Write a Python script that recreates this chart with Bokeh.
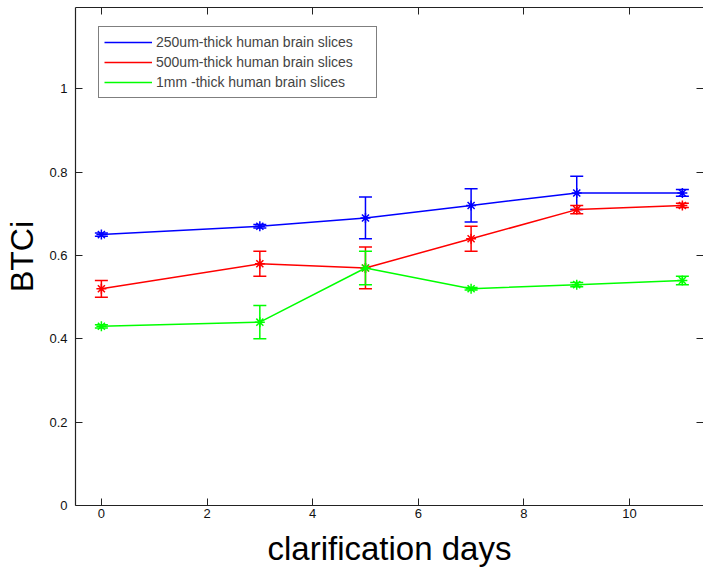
from bokeh.plotting import figure
from bokeh.models import (ColumnDataSource, Whisker, TeeHead, Legend, LegendItem,
                          LinearAxis, FixedTicker, NumeralTickFormatter, Range1d,
                          CustomJSTickFormatter)
from bokeh.embed import file_html
from bokeh.resources import INLINE

# ---- data ----
days = [0, 3, 5, 7, 9, 11]
btci_250um = [0.65, 0.67, 0.69, 0.72, 0.75, 0.75]
err_250um = [0.004, 0.004, 0.05, 0.04, 0.04, 0.008]
btci_500um = [0.52, 0.58, 0.57, 0.64, 0.71, 0.72]
err_500um = [0.02, 0.03, 0.05, 0.03, 0.01, 0.005]
btci_1mm = [0.43, 0.44, 0.57, 0.52, 0.53, 0.54]
err_1mm = [0.004, 0.04, 0.04, 0.003, 0.005, 0.01]
series_names = ["250um-thick human brain slices",
                "500um-thick human brain slices",
                "1mm -thick human brain slices"]
series_colors = ["#0000ff", "#ff0000", "#00ff00"]
x_ticks = [0, 2, 4, 6, 8, 10]
y_ticks = [0, 0.2, 0.4, 0.6, 0.8, 1]

FONT = "Liberation Sans"

p = figure(width=703, height=571, output_backend="svg", toolbar_location=None,
           x_range=Range1d(-0.49, 11.40), y_range=Range1d(0, 1.195),
           min_border_left=75, min_border_bottom=66, min_border_top=7, min_border_right=0,
           x_axis_label="clarification days", y_axis_label="BTCi")
p.grid.visible = False
p.outline_line_color = None
p.background_fill_color = "white"
p.border_fill_color = "white"

for ax in p.xaxis + p.yaxis:
    ax.major_tick_in = 7
    ax.major_tick_out = 0
    ax.minor_tick_line_color = None
    ax.axis_line_color = "#222222"
    ax.axis_line_width = 1.2
    ax.major_tick_line_color = "#222222"
    ax.major_label_text_font = FONT
    ax.major_label_text_font_size = "13px"
    ax.major_label_text_color = "#111111"
    ax.axis_label_text_font = FONT
    ax.axis_label_text_font_style = "normal"
    ax.axis_label_text_color = "black"

p.xaxis.ticker = FixedTicker(ticks=x_ticks)
p.yaxis.ticker = FixedTicker(ticks=y_ticks)
p.yaxis.formatter = NumeralTickFormatter(format="0.[0]")
p.xaxis.major_label_standoff = 3
p.yaxis.major_label_standoff = 8
p.xaxis.axis_label_text_font_size = "33px"
p.yaxis.axis_label_text_font_size = "32px"
p.xaxis.axis_label_standoff = 9
p.yaxis.axis_label_standoff = 6

blank = CustomJSTickFormatter(code="return ''")
# mirror ticks on top and right (right border lies outside the visible window)
top = LinearAxis(ticker=FixedTicker(ticks=x_ticks), major_tick_in=7, major_tick_out=0,
                 formatter=blank, major_label_standoff=0,
                 axis_line_color="#222222", axis_line_width=1.2, minor_tick_line_color=None,
                 major_tick_line_color="#222222")
right = LinearAxis(ticker=FixedTicker(ticks=y_ticks), major_tick_in=7, major_tick_out=0,
                   formatter=blank, major_label_standoff=0,
                   axis_line_color=None, minor_tick_line_color=None,
                   major_tick_line_color="#222222")
p.add_layout(top, "above")
p.add_layout(right, "right")

items = []
for vals, errs, name, col in zip([btci_250um, btci_500um, btci_1mm],
                                 [err_250um, err_500um, err_1mm],
                                 series_names, series_colors):
    src = ColumnDataSource(dict(x=days, y=vals,
                                lo=[v - e for v, e in zip(vals, errs)],
                                hi=[v + e for v, e in zip(vals, errs)]))
    ln = p.line("x", "y", source=src, line_color=col, line_width=1.5)
    p.scatter("x", "y", source=src, marker="asterisk", size=10, line_color=col, line_width=1.5)
    w = Whisker(source=src, base="x", lower="lo", upper="hi", dimension="height",
                line_color=col, line_width=1.5,
                upper_head=TeeHead(size=13, line_color=col, line_width=1.5),
                lower_head=TeeHead(size=13, line_color=col, line_width=1.5))
    p.add_layout(w)
    items.append(LegendItem(label=name, renderers=[ln]))

legend = Legend(items=items, location=(23, 407), border_line_color="black",
                border_line_width=1, padding=5, spacing=0, margin=0,
                glyph_width=48, glyph_height=20, label_height=20, label_standoff=4,
                label_width=215,
                label_text_font=FONT, label_text_font_size="14px",
                background_fill_alpha=1, background_fill_color="white")
p.add_layout(legend, "center")

open("out.html", "w").write(file_html(p, INLINE))
